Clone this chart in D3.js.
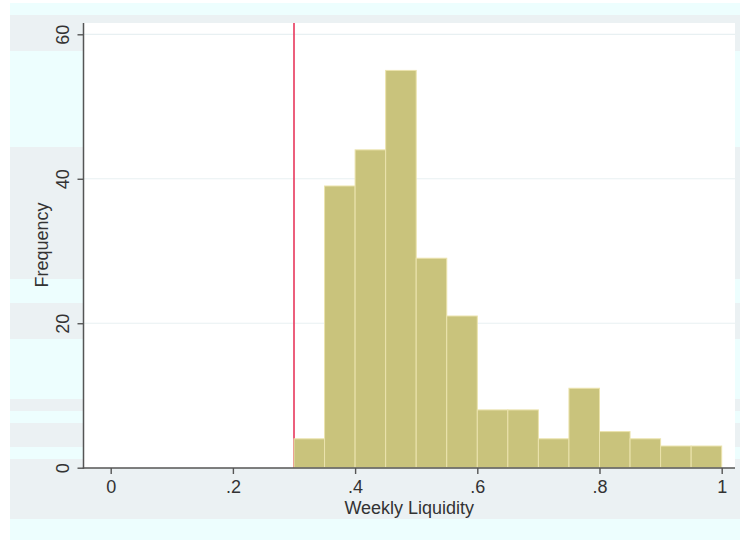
<!DOCTYPE html>
<html>
<head>
<meta charset="utf-8">
<script src="https://cdn.jsdelivr.net/npm/d3@7"></script>
<style>
  html, body { margin: 0; padding: 0; background: #ffffff; }
  svg { display: block; }
  text { font-family: "Liberation Sans", Arial, Helvetica, sans-serif; fill: #333333; }
</style>
</head>
<body>
<svg id="chart" width="740" height="540"></svg>
<script>
// ---- data ----
const binStarts = [0.30, 0.35, 0.40, 0.45, 0.50, 0.55, 0.60, 0.65, 0.70, 0.75, 0.80, 0.85, 0.90, 0.95];
const binWidth = 0.05;
const frequencies = [4, 39, 44, 55, 29, 21, 8, 8, 4, 11, 5, 4, 3, 3];
const xTickValues = [0, 0.2, 0.4, 0.6, 0.8, 1];
const xTickLabels = ["0", ".2", ".4", ".6", ".8", "1"];
const yTickValues = [0, 20, 40, 60];
const yTickLabels = ["0", "20", "40", "60"];
const thresholdValue = [0.3];
const xTitle = "Weekly Liquidity";
const yTitle = "Frequency";

// ---- layout ----
const svg = d3.select("#chart");
const plot = { left: 83.5, right: 735, top: 23, bottom: 468 };
const x = d3.scaleLinear().domain([0, 1]).range([110.7, 721.7]);
const y = d3.scaleLinear().domain([0, 60]).range([467.7, 34.3]);

// outer background with light bands
svg.append("rect").attr("x", 10).attr("y", 3).attr("width", 730).attr("height", 537).attr("fill", "#ebf1f3");
const cyanBands = [[3, 15], [51, 147], [279, 303], [339, 399], [411, 423], [447, 459], [519, 540]];
svg.append("g").selectAll("rect").data(cyanBands).join("rect")
  .attr("x", 10).attr("width", 730)
  .attr("y", d => d[0]).attr("height", d => d[1] - d[0])
  .attr("fill", "#edfefe");

// plot region
svg.append("rect")
  .attr("x", plot.left).attr("y", plot.top)
  .attr("width", plot.right - plot.left).attr("height", plot.bottom - plot.top)
  .attr("fill", "#ffffff");

// gridlines
svg.append("g").selectAll("line").data(yTickValues.filter(v => v > 0)).join("line")
  .attr("x1", plot.left).attr("x2", plot.right)
  .attr("y1", d => y(d)).attr("y2", d => y(d))
  .attr("stroke", "#e8f0f2").attr("stroke-width", 1.2);

// threshold line
svg.append("g").selectAll("line").data(thresholdValue).join("line")
  .attr("x1", d => x(d)).attr("x2", d => x(d))
  .attr("y1", plot.top).attr("y2", y(0))
  .attr("stroke", "#e8375c").attr("stroke-width", 1.6);

// bars
const bins = binStarts.map((s, i) => ({ x0: s, x1: s + binWidth, n: frequencies[i] }));
svg.append("g").selectAll("rect").data(bins).join("rect")
  .attr("x", d => x(d.x0))
  .attr("y", d => y(d.n))
  .attr("width", d => x(d.x1) - x(d.x0))
  .attr("height", d => y(0) - y(d.n))
  .attr("fill", "#c9c37c")
  .attr("stroke", "#ebe3ad")
  .attr("stroke-width", 1);

// axes
const axisColor = "#555555";
const xAxis = d3.axisBottom(x).tickValues(xTickValues)
  .tickFormat((d, i) => xTickLabels[i]).tickSize(6).tickSizeOuter(0);
const gx = svg.append("g").attr("transform", `translate(0,${plot.bottom})`).call(xAxis);
gx.select(".domain").remove();
gx.selectAll(".tick line").attr("stroke", axisColor).attr("stroke-width", 1.4);
gx.selectAll(".tick text").attr("font-size", 18).attr("dy", null).attr("y", 25).style("fill", "#333");
svg.append("line").attr("x1", plot.left - 0.7).attr("x2", plot.right)
  .attr("y1", plot.bottom).attr("y2", plot.bottom)
  .attr("stroke", axisColor).attr("stroke-width", 1.5);

const yAxis = d3.axisLeft(y).tickValues(yTickValues)
  .tickFormat((d, i) => yTickLabels[i]).tickSize(6).tickSizeOuter(0);
const gy = svg.append("g").attr("transform", `translate(${plot.left},0)`).call(yAxis);
gy.select(".domain").remove();
gy.selectAll(".tick line").attr("stroke", axisColor).attr("stroke-width", 1.4);
gy.selectAll(".tick text")
  .attr("font-size", 18).attr("x", null).attr("dy", null)
  .attr("text-anchor", "middle")
  .attr("transform", "translate(-15,0) rotate(-90)")
  .style("fill", "#333");
svg.append("line").attr("x1", plot.left).attr("x2", plot.left)
  .attr("y1", plot.top).attr("y2", plot.bottom + 0.7)
  .attr("stroke", axisColor).attr("stroke-width", 1.5);

// titles
svg.append("text").attr("x", (plot.left + plot.right) / 2).attr("y", 514)
  .attr("text-anchor", "middle").attr("font-size", 18).text(xTitle);
svg.append("text").attr("transform", "translate(48,245) rotate(-90)")
  .attr("text-anchor", "middle").attr("font-size", 18).text(yTitle);
</script>
</body>
</html>
